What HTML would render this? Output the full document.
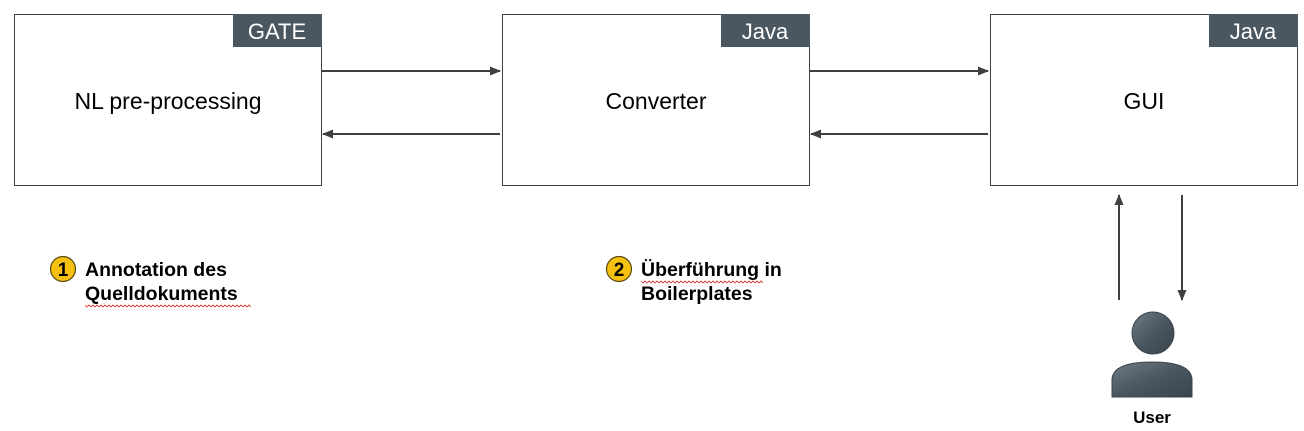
<!DOCTYPE html>
<html><head><meta charset="utf-8"><style>
html,body{margin:0;padding:0;background:#fff;}
svg{display:block;}
text{font-family:"Liberation Sans",Arial,sans-serif;}
</style></head><body>
<svg width="1304" height="431" viewBox="0 0 1304 431" xmlns="http://www.w3.org/2000/svg">
<defs>
<marker id="ah" markerWidth="11" markerHeight="9" refX="10" refY="4.5" orient="auto" markerUnits="userSpaceOnUse">
<path d="M0,0 L11,4.5 L0,9 z" fill="#404040"/></marker>
<linearGradient id="g" x1="0" y1="0" x2="1" y2="1"><stop offset="0" stop-color="#6f7c86"/><stop offset="0.5" stop-color="#4a5660"/><stop offset="1" stop-color="#3a444c"/></linearGradient>
</defs>
<g fill="#fff" stroke="#404040" stroke-width="1">
<rect x="14.5" y="14.5" width="307" height="171"/>
<rect x="502.5" y="14.5" width="307" height="171"/>
<rect x="990.5" y="14.5" width="307" height="171"/>
</g>
<g fill="#4a5660">
<rect x="233" y="14" width="89" height="33"/>
<rect x="721" y="14" width="89" height="33"/>
<rect x="1209" y="14" width="89" height="33"/>
</g>
<g fill="#fff" font-size="22" text-anchor="middle">
<text x="277" y="39">GATE</text>
<text x="765" y="39">Java</text>
<text x="1253" y="39">Java</text>
</g>
<g fill="#000" font-size="23" text-anchor="middle">
<text x="168" y="109">NL pre-processing</text>
<text x="656" y="109">Converter</text>
<text x="1144" y="109">GUI</text>
</g>
<g stroke="#404040" stroke-width="2" fill="none">
<line x1="322" y1="71" x2="500" y2="71" marker-end="url(#ah)"/>
<line x1="500" y1="134" x2="323" y2="134" marker-end="url(#ah)"/>
<line x1="810" y1="71" x2="988" y2="71" marker-end="url(#ah)"/>
<line x1="988" y1="134" x2="811" y2="134" marker-end="url(#ah)"/>
<line x1="1119" y1="300" x2="1119" y2="195" marker-end="url(#ah)"/>
<line x1="1182" y1="195" x2="1182" y2="300" marker-end="url(#ah)"/>
</g>
<circle cx="1153" cy="333" r="21" fill="url(#g)" stroke="#3a444c"/>
<path d="M1112,397 L1112,380 Q1112,362 1152,362 Q1192,362 1192,380 L1192,397 Z" fill="url(#g)" stroke="#3a444c"/>
<text x="1152" y="423" font-size="17" font-weight="bold" text-anchor="middle">User</text>
<circle cx="63" cy="269" r="12.5" fill="#f5c010" stroke="#5a4a10" stroke-width="1.2"/>
<text x="63" y="276" font-size="19" font-weight="bold" text-anchor="middle">1</text>
<text x="85" y="276" font-size="19.5" font-weight="bold">Annotation des</text>
<text x="85" y="300" font-size="19.5" font-weight="bold">Quelldokuments</text>
<path d="M85,305 l2,2 l2,-2 l2,2 l2,-2 l2,2 l2,-2 l2,2 l2,-2 l2,2 l2,-2 l2,2 l2,-2 l2,2 l2,-2 l2,2 l2,-2 l2,2 l2,-2 l2,2 l2,-2 l2,2 l2,-2 l2,2 l2,-2 l2,2 l2,-2 l2,2 l2,-2 l2,2 l2,-2 l2,2 l2,-2 l2,2 l2,-2 l2,2 l2,-2 l2,2 l2,-2 l2,2 l2,-2 l2,2 l2,-2 l2,2 l2,-2 l2,2 l2,-2 l2,2 l2,-2 l2,2 l2,-2 l2,2 l2,-2 l2,2 l2,-2 l2,2 l2,-2 l2,2 l2,-2 l2,2 l2,-2 l2,2 l2,-2 l2,2 l2,-2 l2,2 l2,-2 l2,2 l2,-2 l2,2 l2,-2 l2,2 l2,-2 l2,2 l2,-2 l2,2 l2,-2 l2,2 l2,-2 l2,2 l2,-2 l2,2 l2,-2 l2,2" fill="none" stroke="#e03030" stroke-width="0.8"/>
<circle cx="619" cy="269" r="12.5" fill="#f5c010" stroke="#5a4a10" stroke-width="1.2"/>
<text x="619" y="276" font-size="19" font-weight="bold" text-anchor="middle">2</text>
<text x="641" y="276" font-size="19.5" font-weight="bold">Überführung in</text>
<text x="641" y="300" font-size="19.5" font-weight="bold">Boilerplates</text>
<path d="M641,281 l2,2 l2,-2 l2,2 l2,-2 l2,2 l2,-2 l2,2 l2,-2 l2,2 l2,-2 l2,2 l2,-2 l2,2 l2,-2 l2,2 l2,-2 l2,2 l2,-2 l2,2 l2,-2 l2,2 l2,-2 l2,2 l2,-2 l2,2 l2,-2 l2,2 l2,-2 l2,2 l2,-2 l2,2 l2,-2 l2,2 l2,-2 l2,2 l2,-2 l2,2 l2,-2 l2,2 l2,-2 l2,2 l2,-2 l2,2 l2,-2 l2,2 l2,-2 l2,2 l2,-2 l2,2 l2,-2 l2,2 l2,-2 l2,2 l2,-2 l2,2 l2,-2 l2,2 l2,-2 l2,2 l2,-2 l2,2" fill="none" stroke="#e03030" stroke-width="0.8"/>
</svg>
</body></html>
